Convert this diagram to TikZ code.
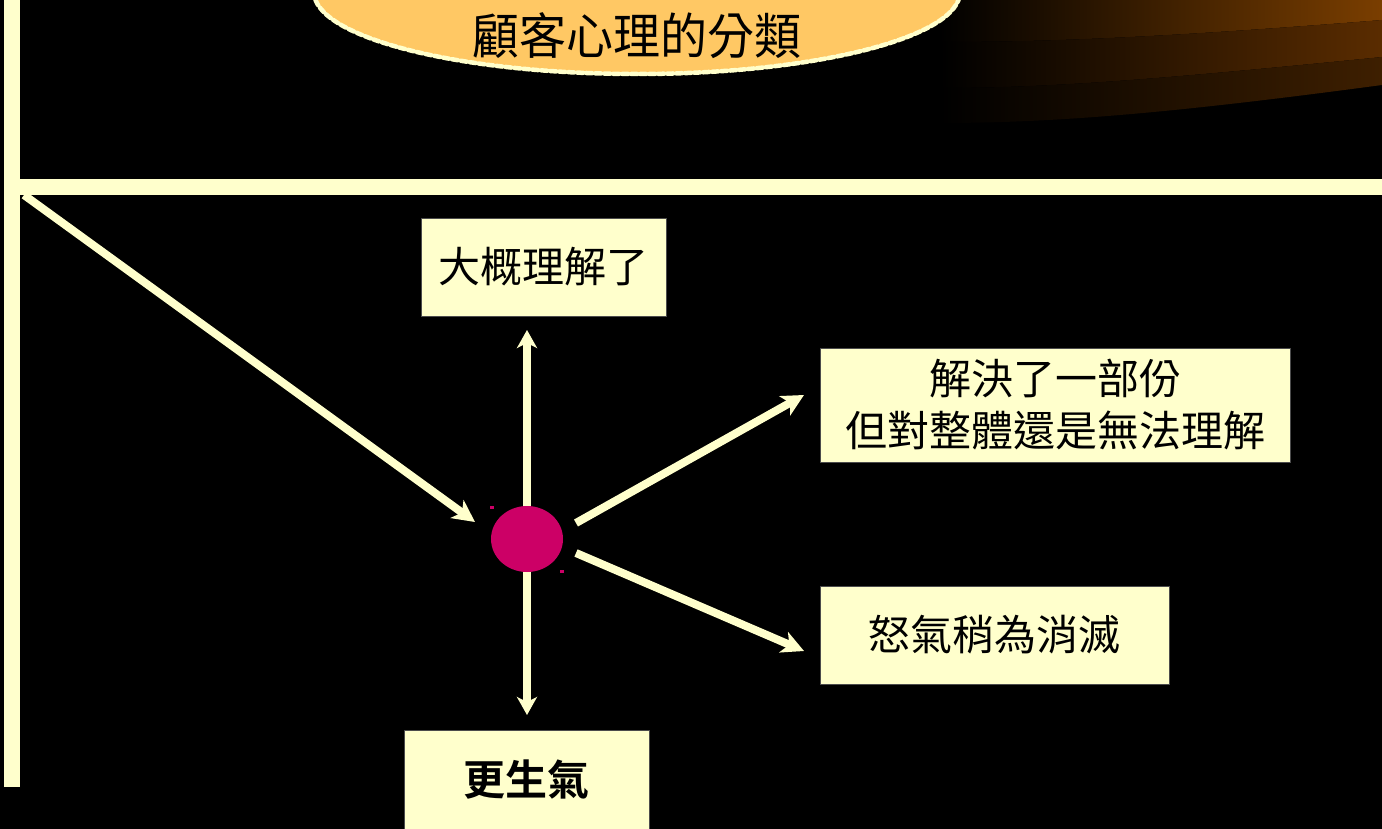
\documentclass[tikz,border=0pt]{standalone}
\usepackage{fontspec}
\newfontfamily\cjk{Noto Sans CJK TC}
\newfontfamily\cjkbold{Noto Sans CJK TC Bold}
\usetikzlibrary{arrows.meta,shapes.geometric}
\definecolor{cream}{HTML}{FFFFCC}
\definecolor{titlefill}{HTML}{FFC864}
\definecolor{hub}{HTML}{CC0066}
\definecolor{bandA}{HTML}{7A3E00}
\definecolor{bandB}{HTML}{5A2C00}
\definecolor{bandC}{HTML}{3E1F00}
\tikzset{
  box/.style={draw=black!70, line width=0.8pt, fill=cream, rectangle, inner sep=0pt, align=center,
    font=\cjk\fontsize{42pt}{54pt}\selectfont},
  conn/.style={draw=cream, line width=8pt, -{Stealth[length=22pt,width=22pt,inset=6pt]}},
  bar/.style={fill=cream},
}
\begin{document}
\begin{tikzpicture}[x=1pt,y=-1pt]
\useasboundingbox (0,0) rectangle (1382,829);
\fill[black] (0,0) rectangle (1382,829);
% swooshes
\shade[left color=black, right color=bandA] (940,0) -- (1382,0) -- (1382,20) .. controls (1180,36) and (1060,42) .. (940,42) -- cycle;
\shade[left color=black, right color=bandB] (940,42) .. controls (1060,42) and (1180,36) .. (1382,20) -- (1382,57) .. controls (1180,77) and (1060,88) .. (940,88) -- cycle;
\shade[left color=black, right color=bandC] (940,88) .. controls (1060,88) and (1180,77) .. (1382,57) -- (1382,85) .. controls (1180,112) and (1060,123) .. (940,123) -- cycle;
% title ellipse
\node[ellipse, draw=cream, fill=titlefill, line width=4.5pt, dash pattern=on 6pt off 3pt, line cap=round,
  minimum width=646pt, minimum height=164pt] (title) at (637,-8) {};
\node[font=\cjk\fontsize{47pt}{50pt}\selectfont, inner sep=0pt, yscale=1.05] (titletext) at (637,36) {顧客心理的分類};
% bars
\fill[bar] (4,0) rectangle (20,787);
\fill[bar] (20,179) rectangle (1382,195);
\coordinate (corner) at (24,195);
% boxes
\node[box, minimum width=245pt, minimum height=98pt] (b1) at (543.5,267) {大概理解了};
\node[box, minimum width=470pt, minimum height=114pt, font=\cjk\fontsize{42pt}{52pt}\selectfont] (b2) at (1055,405) {解決了一部份\\但對整體還是無法理解};
\node[box, minimum width=349pt, minimum height=98pt] (b3) at (994.5,635) {怒氣稍為消滅};
\node[box, minimum width=245pt, minimum height=99pt, font=\cjkbold\fontsize{42pt}{54pt}\selectfont] (b4) at (526.5,780) {更生氣};
% arrows
\coordinate (vtop) at (527,330);
\coordinate (vbot) at (527,715);
\draw[draw=cream, line width=8pt, {Stealth[length=18pt,width=20pt,inset=5pt]}-{Stealth[length=18pt,width=20pt,inset=5pt]}] (vtop) -- (vbot);
\coordinate (dend) at (475,522);
\draw[conn] (corner) -- (dend);
\node[ellipse, fill=hub, minimum width=72pt, minimum height=66pt, inner sep=0pt] (hubnode) at (527,539) {};
\fill[hub] (490,506) rectangle (494,509);
\fill[hub] (560,570) rectangle (564,573);
\coordinate (ur0) at (576,523);
\coordinate (ur1) at (804,395);
\coordinate (lr0) at (576,553);
\coordinate (lr1) at (804,651);
\draw[conn] (ur0) -- (ur1);
\draw[conn] (lr0) -- (lr1);
\end{tikzpicture}
\end{document}
